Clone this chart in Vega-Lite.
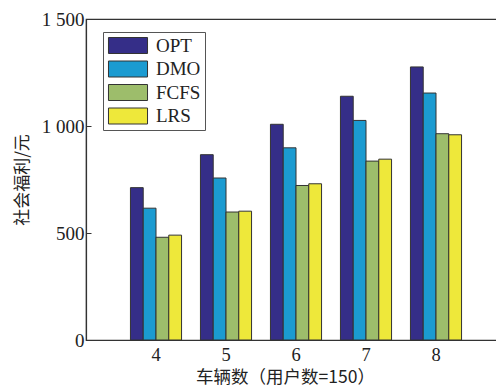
{
  "$schema": "https://vega.github.io/schema/vega-lite/v6.json",
  "autosize": {"type": "none"},
  "padding": {"left": 86, "top": 19, "right": 0, "bottom": 48},
  "width": 420,
  "height": 321,
  "background": "white",
  "config": {
    "view": {"stroke": "#333333", "strokeWidth": 1.2},
    "font": "Liberation Serif"
  },
  "data": {
    "values": [
      {"n": "4", "s": "OPT", "v": 712}, {"n": "4", "s": "DMO", "v": 616}, {"n": "4", "s": "FCFS", "v": 480}, {"n": "4", "s": "LRS", "v": 490},
      {"n": "5", "s": "OPT", "v": 866}, {"n": "5", "s": "DMO", "v": 757}, {"n": "5", "s": "FCFS", "v": 598}, {"n": "5", "s": "LRS", "v": 602},
      {"n": "6", "s": "OPT", "v": 1008}, {"n": "6", "s": "DMO", "v": 898}, {"n": "6", "s": "FCFS", "v": 722}, {"n": "6", "s": "LRS", "v": 730},
      {"n": "7", "s": "OPT", "v": 1139}, {"n": "7", "s": "DMO", "v": 1026}, {"n": "7", "s": "FCFS", "v": 836}, {"n": "7", "s": "LRS", "v": 845},
      {"n": "8", "s": "OPT", "v": 1276}, {"n": "8", "s": "DMO", "v": 1154}, {"n": "8", "s": "FCFS", "v": 964}, {"n": "8", "s": "LRS", "v": 959}
    ]
  },
  "mark": {"type": "bar", "stroke": "#333333", "strokeWidth": 1},
  "encoding": {
    "x": {
      "field": "n", "type": "ordinal",
      "scale": {"paddingInner": 0.27, "paddingOuter": 0.635},
      "axis": {
        "title": "车辆数（用户数=150）",
        "titleFont": "Noto Sans CJK SC", "titleFontWeight": "normal", "titleFontSize": 17.5,
        "titleColor": "#222222", "titleX": 199, "titleY": 37.5, "titleBaseline": "middle",
        "labelAngle": 0, "labelFontSize": 18.5, "labelColor": "#222222", "labelPadding": 5,
        "ticks": false, "domainColor": "#333333", "domainWidth": 1.2
      }
    },
    "xOffset": {"field": "s", "type": "nominal", "sort": ["OPT", "DMO", "FCFS", "LRS"], "scale": {"paddingInner": 0, "paddingOuter": 0}},
    "y": {
      "field": "v", "type": "quantitative",
      "scale": {"domain": [0, 1500], "nice": false},
      "axis": {
        "title": "社会福利/元",
        "titleFont": "Noto Sans CJK SC", "titleFontWeight": "normal", "titleFontSize": 17,
        "titleColor": "#222222", "titleX": -64, "titleBaseline": "middle",
        "values": [0, 500, 1000, 1500],
        "labelExpr": "replace(format(datum.value, ','), ',', ' ')",
        "labelFontSize": 19, "labelColor": "#222222", "labelPadding": 7,
        "tickSize": -5, "tickColor": "#333333", "grid": false,
        "domainColor": "#333333", "domainWidth": 1.2
      }
    },
    "color": {
      "field": "s", "type": "nominal", "sort": ["OPT", "DMO", "FCFS", "LRS"],
      "scale": {"domain": ["OPT", "DMO", "FCFS", "LRS"], "range": ["#352e88", "#1b9bd1", "#9dbd6b", "#eee83a"]},
      "legend": {
        "title": null, "orient": "none", "legendX": 17, "legendY": 13,
        "fillColor": "white", "strokeColor": "#555555", "padding": 4,
        "symbolType": "M-2.44,-1H2.44V1H-2.44Z", "symbolSize": 256,
        "symbolOffset": 11.5,
        "symbolStrokeColor": "#333333", "symbolStrokeWidth": 1,
        "labelFontSize": 19, "labelColor": "#222222", "labelOffset": 18.5,
        "rowPadding": 2.5
      }
    }
  }
}
